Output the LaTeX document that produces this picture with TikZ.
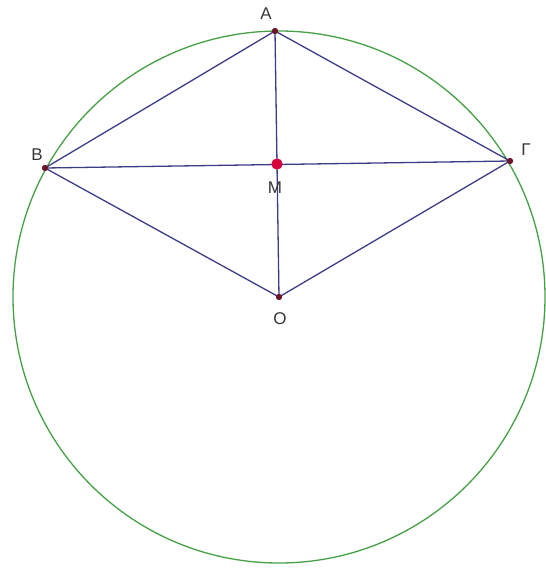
\documentclass[tikz,border=0pt]{standalone}
\usepackage{fontspec}
\setmainfont{Liberation Sans}
\usepackage{tikz}
\usetikzlibrary{positioning}

\definecolor{circgreen}{RGB}{70,160,70}
\definecolor{segblue}{RGB}{60,60,135}
\definecolor{ptred}{RGB}{110,20,40}
\definecolor{mred}{RGB}{215,0,60}
\definecolor{lblgray}{RGB}{55,55,55}

\begin{document}
\begin{tikzpicture}[x=1pt, y=-1pt,
  pt/.style={circle, fill=ptred, inner sep=0pt, minimum size=6pt},
  mpt/.style={circle, fill=mred, inner sep=0pt, minimum size=11pt},
  lbl/.style={text=lblgray, font=\fontsize{17}{19}\selectfont, inner sep=1pt},
  seg/.style={segblue, line width=1.3pt}]
\useasboundingbox (0,0) rectangle (546,568);

\draw[circgreen, line width=1.3pt] (279,297) circle (266);

\node[pt] (A) at (275,31) {};
\node[pt] (B) at (45,168) {};
\node[pt] (G) at (510,161) {};
\node[pt] (O) at (279,297) {};
\node[mpt] (M) at (277,164) {};

\draw[seg] (A.center) -- (B.center);
\draw[seg] (A.center) -- (G.center);
\draw[seg] (B.center) -- (O.center);
\draw[seg] (G.center) -- (O.center);
\draw[seg] (A.center) -- (O.center);
\draw[seg] (B.center) -- (G.center);

\node[mpt] at (M) {};
\node[pt] at (A) {};
\node[pt] at (B) {};
\node[pt] at (G) {};
\node[pt] at (O) {};

\node[lbl] (lA) at (266,14) {A};
\node[lbl] (lB) at (37,155) {B};
\node[lbl] (lG) at (526,150) {Γ};
\node[lbl] (lM) at (275,188) {M};
\node[lbl] (lO) at (280,319) {O};
\end{tikzpicture}
\end{document}
